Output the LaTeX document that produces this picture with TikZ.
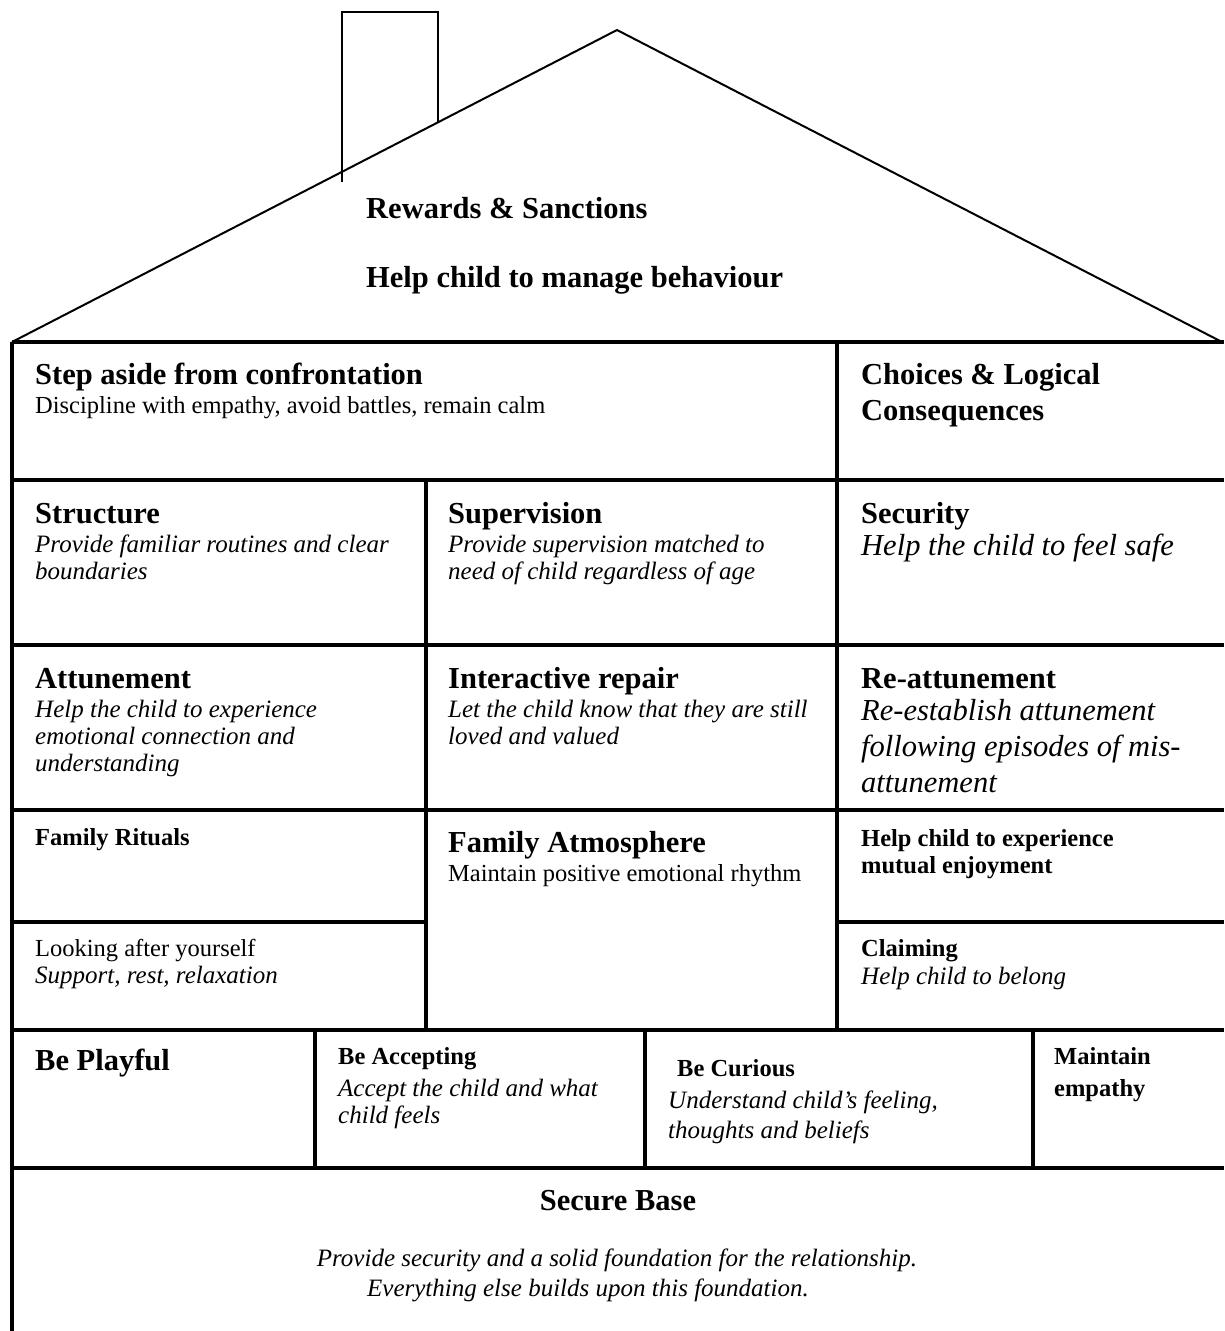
\documentclass[tikz,border=0pt]{standalone}
\usepackage{fontspec}
\setmainfont{Liberation Serif}
\usetikzlibrary{positioning}
\tikzset{
  wall/.style={line width=3.5pt},
  roofline/.style={line width=2pt, line join=miter},
  cellhead/.style={anchor=base west, inner sep=0pt, align=left, font=\fontsize{30.5}{36}\selectfont\bfseries},
  minorhead/.style={anchor=base west, inner sep=0pt, align=left, font=\fontsize{24.5}{27}\selectfont\bfseries},
  celltext/.style={anchor=base west, inner sep=0pt, align=left, font=\fontsize{24.5}{27}\selectfont},
  cellnote/.style={anchor=base west, inner sep=0pt, align=left, font=\fontsize{25}{27}\selectfont\itshape},
  bignote/.style={anchor=base west, inner sep=0pt, align=left, font=\fontsize{30.5}{36}\selectfont\itshape}
}
\begin{document}
\begin{tikzpicture}[x=1pt, y=-1pt]
  \useasboundingbox (0,0) rectangle (1224,1331);
  \coordinate (eaveL) at (12,342);
  \coordinate (peak) at (617,30);
  \coordinate (eaveR) at (1222,342);
  \draw[roofline] (eaveL) -- (peak) -- (eaveR);
  \draw[line width=2.5pt] (342,182) -- (342,12) -- (438,12) -- (438,123);

  \draw[wall] (12,342) -- (1224,342);
  \draw[wall] (12,342) -- (12,1331);
  \draw[wall] (12,480) -- (1224,480);
  \draw[wall] (12,645) -- (1224,645);
  \draw[wall] (12,810) -- (1224,810);
  \draw[wall] (12,922) -- (426,922);
  \draw[wall] (837,922) -- (1224,922);
  \draw[wall] (12,1030) -- (1224,1030);
  \draw[wall] (12,1168) -- (1224,1168);
  \draw[wall] (837,342) -- (837,1030);
  \draw[wall] (426,480) -- (426,1030);
  \draw[wall] (315,1030) -- (315,1168);
  \draw[wall] (645,1030) -- (645,1168);
  \draw[wall] (1033,1030) -- (1033,1168);

  \node[cellhead] (rewards) at (366,218) {Rewards \& Sanctions};
  \node[cellhead] (manage) at (366,287) {Help child to manage behaviour};

  \node[cellhead] (stepaside) at (35,384) {Step aside from confrontation};
  \node[celltext] (discipline) at (35,413) {Discipline with empathy, avoid battles, remain calm};
  \node[cellhead] (choices) at (861,420) {Choices \& Logical\\Consequences};

  \node[cellhead] (structure) at (35,523) {Structure};
  \node[cellnote] (structuretxt) at (35,579) {Provide familiar routines and clear\\boundaries};
  \node[cellhead] (supervision) at (448,523) {Supervision};
  \node[cellnote] (supervisiontxt) at (448,579) {Provide supervision matched to\\need of child regardless of age};
  \node[cellhead] (security) at (861,523) {Security};
  \node[bignote] (securitytxt) at (861,555) {Help the child to feel safe};

  \node[cellhead] (attunement) at (35,688) {Attunement};
  \node[cellnote] (attunementtxt) at (35,771) {Help the child to experience\\emotional connection and\\understanding};
  \node[cellhead] (repair) at (448,688) {Interactive repair};
  \node[cellnote] (repairtxt) at (448,744) {Let the child know that they are still\\loved and valued};
  \node[cellhead] (reattune) at (861,688) {Re-attunement};
  \node[bignote] (reattunetxt) at (861,792) {Re-establish attunement\\following episodes of mis-\\attunement};

  \node[minorhead] (rituals) at (35,845) {Family Rituals};
  \node[cellhead] (atmosphere) at (448,852) {Family Atmosphere};
  \node[celltext] (atmospheretxt) at (448,881) {Maintain positive emotional rhythm};
  \node[minorhead] (enjoy) at (861,873) {Help child to experience\\mutual enjoyment};

  \node[celltext] (yourself) at (35,956) {Looking after yourself};
  \node[cellnote] (yourselftxt) at (35,983) {Support, rest, relaxation};
  \node[minorhead] (claiming) at (861,956) {Claiming};
  \node[cellnote] (claimingtxt) at (861,984) {Help child to belong};

  \node[cellhead] (playful) at (35,1070) {Be Playful};
  \node[minorhead] (accepting) at (338,1064) {Be Accepting};
  \node[cellnote] (acceptingtxt) at (338,1123) {Accept the child and what\\child feels};
  \node[minorhead] (curious) at (677,1076) {Be Curious};
  \node[cellnote] (curioustxt) at (668,1138) {Understand child's feeling,\\[3pt]thoughts and beliefs};
  \node[minorhead] (empathy) at (1054,1096) {Maintain\\[5pt]empathy};

  \node[cellhead, anchor=base] (securebase) at (618,1210) {Secure Base};
  \node[cellnote, anchor=base] (basetxt) at (617,1266) {Provide security and a solid foundation for the relationship.};
  \node[cellnote, anchor=base] (basetxt2) at (588,1296) {Everything else builds upon this foundation.};
\end{tikzpicture}
\end{document}
